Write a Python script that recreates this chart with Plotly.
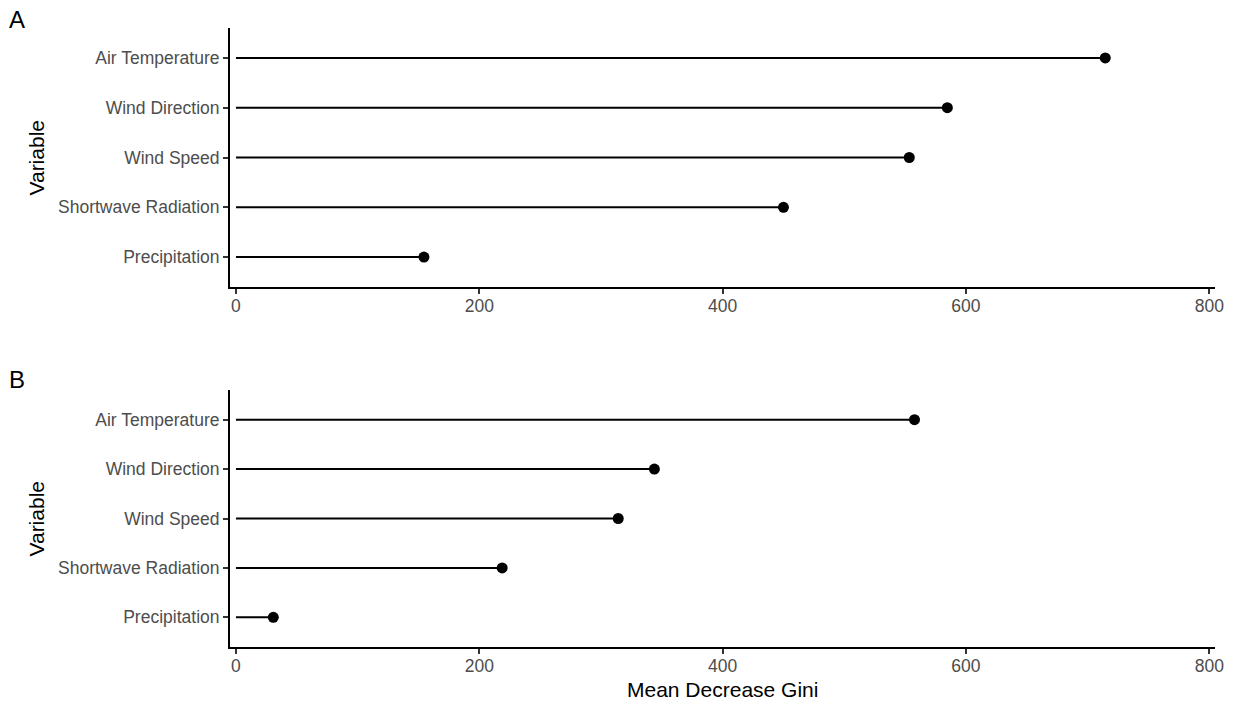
import plotly.graph_objects as go

variables = ["Precipitation", "Shortwave Radiation", "Wind Speed", "Wind Direction", "Air Temperature"]
gini_a = [154.5, 450, 553.4, 584.7, 714.5]
gini_b = [30.7, 218.8, 314.2, 343.9, 557.7]
x_ticks = [0, 200, 400, 600, 800]
panel_tags = ["A", "B"]

W, H = 1233, 702
FONT = "Liberation Sans, Arial, Helvetica, sans-serif"

fig = go.Figure()

def seg(vals, cats):
    xs, ys = [], []
    for v, c in zip(vals, cats):
        xs += [0, v, None]
        ys += [c, c, None]
    return xs, ys

for i, vals in enumerate([gini_a, gini_b]):
    ax = "" if i == 0 else "2"
    xs, ys = seg(vals, variables)
    fig.add_trace(go.Scatter(x=xs, y=ys, mode="lines", line=dict(color="black", width=2),
                             xaxis="x" + ax, yaxis="y" + ax, showlegend=False, hoverinfo="skip"))
    fig.add_trace(go.Scatter(x=vals, y=variables, mode="markers",
                             marker=dict(color="black", size=11),
                             xaxis="x" + ax, yaxis="y" + ax, showlegend=False))

xdom = [230 / W, 1215 / W]
ydom_a = [1 - 287 / H, 1 - 28 / H]
ydom_b = [1 - 647 / H, 1 - 390 / H]

def xaxis_cfg(anchor):
    return dict(domain=xdom, anchor=anchor, range=[-4.9, 804.7], tickvals=x_ticks,
                ticktext=[str(t) for t in x_ticks],
                showline=True, linecolor="black", linewidth=2, showgrid=False, zeroline=False,
                ticks="outside", ticklen=5, tickwidth=1.6, tickcolor="#333333",
                ticklabelstandoff=-3,
                tickfont=dict(size=17.5, color="#4D4D4D", family=FONT), automargin=False)

def yaxis_cfg(dom, anchor):
    return dict(domain=dom, anchor=anchor, type="category", categoryorder="array",
                categoryarray=variables, range=[-0.6, 4.6],
                showline=True, linecolor="black", linewidth=2, showgrid=False, zeroline=False,
                ticks="outside", ticklen=5, tickwidth=1.6, tickcolor="#333333",
                tickfont=dict(size=17.5, color="#4D4D4D", family=FONT), automargin=False)

fig.update_layout(
    width=W, height=H,
    margin=dict(l=0, r=0, t=0, b=0, autoexpand=False),
    plot_bgcolor="white", paper_bgcolor="white",
    xaxis=xaxis_cfg("y"), yaxis=yaxis_cfg(ydom_a, "x"),
    xaxis2=xaxis_cfg("y2"), yaxis2=yaxis_cfg(ydom_b, "x2"),
    font=dict(family=FONT, color="black"),
)

annos = []
for tag, yc in zip(panel_tags, [19, 379]):
    annos.append(dict(text=tag, x=17 / W, y=1 - yc / H, xref="paper", yref="paper",
                      xanchor="center", yanchor="middle", showarrow=False,
                      font=dict(size=24, color="black", family=FONT)))
for yc in [157.5, 518.5]:
    annos.append(dict(text="Variable", x=36 / W, y=1 - yc / H, xref="paper", yref="paper",
                      xanchor="center", yanchor="middle", showarrow=False, textangle=-90,
                      font=dict(size=21, color="black", family=FONT)))
annos.append(dict(text="Mean Decrease Gini", x=722.5 / W, y=1 - 689 / H, xref="paper", yref="paper",
                  xanchor="center", yanchor="middle", showarrow=False,
                  font=dict(size=21, color="black", family=FONT)))
fig.update_layout(annotations=annos)

fig.write_html("out.html")
